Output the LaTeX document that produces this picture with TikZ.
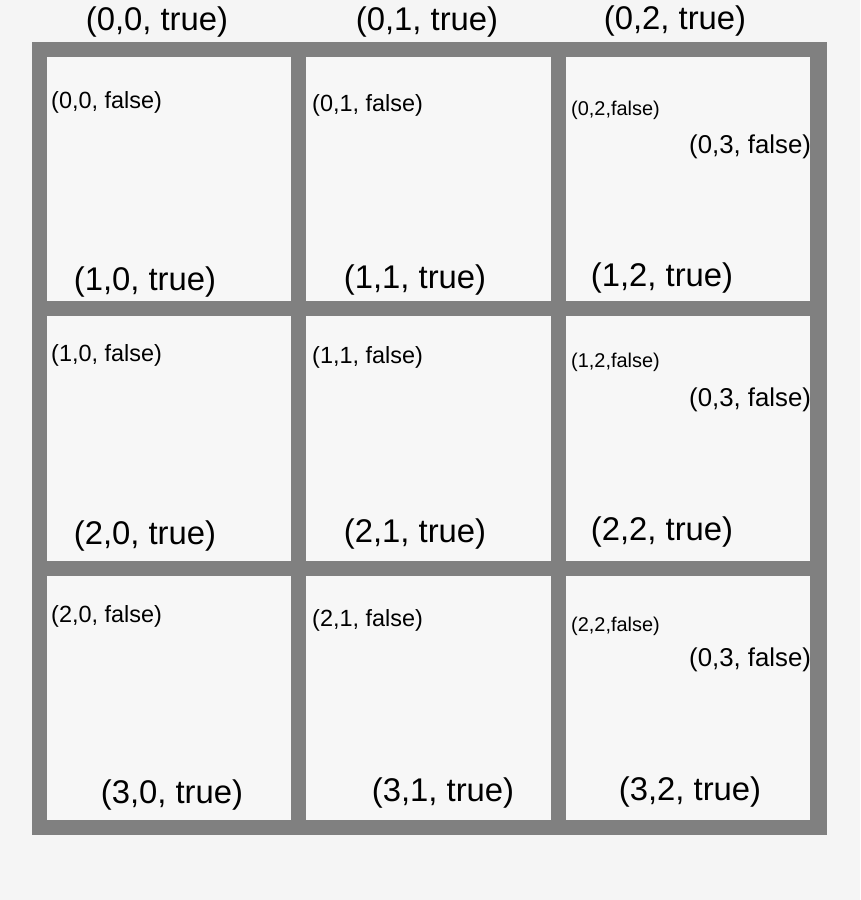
\documentclass[tikz,border=0pt]{standalone}
\usepackage{fontspec}
\setmainfont{Liberation Sans}
\usepackage{tikz}
\usetikzlibrary{positioning}
\definecolor{pagebg}{HTML}{F5F5F5}
\definecolor{cellbg}{HTML}{F7F7F7}
\definecolor{wallgray}{HTML}{808080}
\tikzset{
  gridwall/.style={fill=wallgray, draw=none, inner sep=0pt,
    minimum width=23.82cm, minimum height=23.79cm},
  cellbox/.style={fill=cellbg, draw=none, inner sep=0pt,
    minimum width=7.32cm, minimum height=7.32cm},
  truelabel/.style={font=\fontsize{28}{32}\selectfont, inner sep=0pt},
  falselabel/.style={font=\fontsize{20}{24}\selectfont, anchor=west, inner sep=0pt},
  smallfalse/.style={font=\fontsize{17}{20}\selectfont, anchor=west, inner sep=0pt},
  widefalse/.style={font=\fontsize{22}{26}\selectfont, anchor=west, inner sep=0pt},
}

\begin{document}
\begin{tikzpicture}[x=0.03cm, y=-0.03cm]

%% -- page ------------------------------------------------------------------
\fill[pagebg] (0,0) rectangle (860,900);
\useasboundingbox (0,0) rectangle (860,900);

%% -- grid walls and cells --------------------------------------------------
\node[gridwall] (grid) at (429.5,438.5) {};
\foreach \r in {0,1,2}
  \foreach \c in {0,1,2}
    \node[cellbox] (cell-\r-\c) at ({169+259.5*\c},{179+259.5*\r}) {};

%% -- top row labels --------------------------------------------------------
\node[truelabel] (top-0) at (157,22) {(0,0, true)};
\node[truelabel] (top-1) at (427,22) {(0,1, true)};
\node[truelabel] (top-2) at (675,21) {(0,2, true)};

%% -- row 0 -----------------------------------------------------------------
\node[falselabel] (f-0-0) at (51,102) {(0,0, false)};
\node[falselabel] (f-0-1) at (312,105) {(0,1, false)};
\node[smallfalse] (f-0-2) at (571,110) {(0,2,false)};
\node[widefalse] (g-0-3) at (689,147) {(0,3, false)};
\node[truelabel] (t-0-0) at (145,282) {(1,0, true)};
\node[truelabel] (t-0-1) at (415,280) {(1,1, true)};
\node[truelabel] (t-0-2) at (662,278) {(1,2, true)};

%% -- row 1 -----------------------------------------------------------------
\node[falselabel] (f-1-0) at (51,355) {(1,0, false)};
\node[falselabel] (f-1-1) at (312,357) {(1,1, false)};
\node[smallfalse] (f-1-2) at (571,362) {(1,2,false)};
\node[widefalse] (g-1-3) at (689,400) {(0,3, false)};
\node[truelabel] (t-1-0) at (145,536) {(2,0, true)};
\node[truelabel] (t-1-1) at (415,534) {(2,1, true)};
\node[truelabel] (t-1-2) at (662,532) {(2,2, true)};

%% -- row 2 -----------------------------------------------------------------
\node[falselabel] (f-2-0) at (51,616) {(2,0, false)};
\node[falselabel] (f-2-1) at (312,620) {(2,1, false)};
\node[smallfalse] (f-2-2) at (571,626) {(2,2,false)};
\node[widefalse] (g-2-3) at (689,660) {(0,3, false)};
\node[truelabel] (t-2-0) at (172,795) {(3,0, true)};
\node[truelabel] (t-2-1) at (443,793) {(3,1, true)};
\node[truelabel] (t-2-2) at (690,792) {(3,2, true)};

\end{tikzpicture}
\end{document}
